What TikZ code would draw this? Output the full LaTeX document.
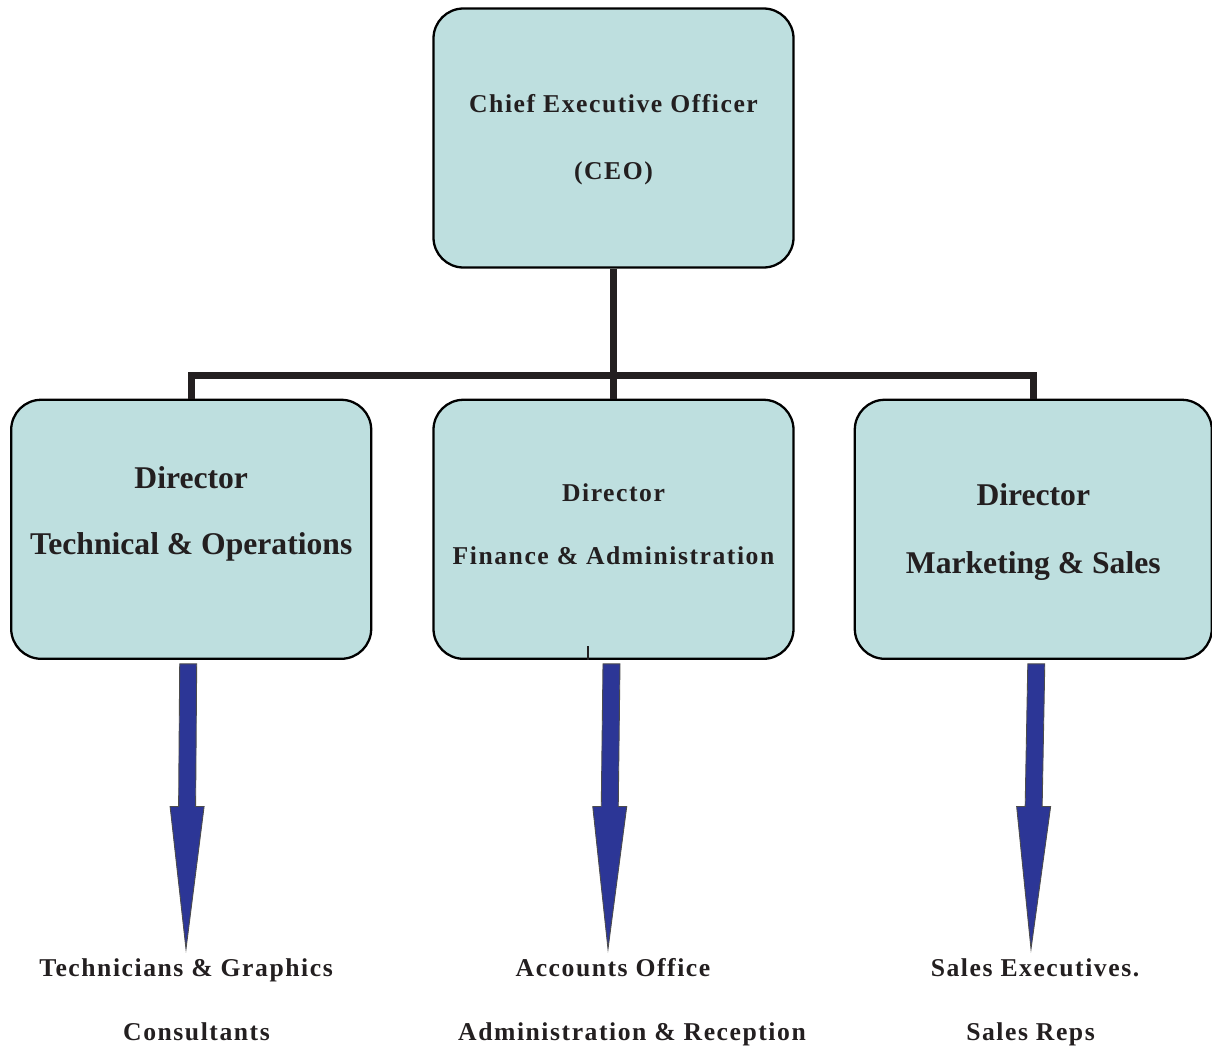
\documentclass[tikz,border=0pt]{standalone}
\usepackage{fontspec}
\setmainfont{Liberation Serif}
\newfontfamily\spacedserif[LetterSpace=6]{Liberation Serif}
\usetikzlibrary{calc,positioning}
\definecolor{BoxTeal}{RGB}{190,223,223}
\definecolor{ArrowBlue}{RGB}{44,54,150}
\definecolor{InkBlack}{RGB}{35,31,32}

\begin{document}
\begin{tikzpicture}[x=0.2mm, y=-0.2mm,
       text=InkBlack,
       every node/.style={font=\bfseries},
       post/.style = {rectangle, minimum width=72mm, minimum height=51.8mm,
                      rounded corners=6mm, draw=black, line width=1.3pt, fill=BoxTeal},
       bigtitle/.style = {align=center, font=\fontsize{18}{#1}\selectfont\bfseries},
       smalltitle/.style = {align=center, font=\spacedserif\fontsize{14.6}{#1}\selectfont\bfseries},
       team/.style = {inner sep=0pt, anchor=base, text height=1.5ex, text depth=.25ex,
                      font=\spacedserif\fontsize{14.6}{17}\selectfont\bfseries},
       orgline/.style = {draw=InkBlack, line width=1.4mm},
       blockarrow/.style = {draw=black!70, fill=ArrowBlue, line width=0.5pt,
                            to path={let \p1=(\tikztostart), \p2=(\tikztotarget),
                                     \p3=($(\p1)!0.5!(\p2)$) in
                                     (\x1-1.7mm,\y1) -- (\x1+1.7mm,\y1) -- (\x3+1.7mm,\y3)
                                     -- (\x3+3.4mm,\y3) -- (\p2) -- (\x3-3.4mm,\y3)
                                     -- (\x3-1.7mm,\y3) -- cycle}}]
	\useasboundingbox (0,0) rectangle (1212,1048);

	%% Chief executive
	\node [post] (ceo) at (613.5,138) {};
	\node [smalltitle=38.2pt,yshift=-0.4mm] (ceotxt) at (ceo.center) {Chief Executive Officer\\(CEO)};

	%% Directors
	\node [post,below=26mm of ceo] (dfin) {};
	\node [post,left=12mm of dfin] (dtech) {};
	\node [post,minimum width=71.4mm,right=11.8mm of dfin] (dmkt) {};
	\node [bigtitle=37.6pt,yshift=3mm] (dtechtxt) at (dtech.center) {Director\\Technical \& Operations};
	\node [smalltitle=35.8pt,yshift=1mm] (dfintxt) at (dfin.center) {Director\\Finance \& Administration};
	\node [bigtitle=38.7pt,yshift=-0.6mm] (dmkttxt) at (dmkt.center) {Director\\Marketing \& Sales};
	\draw [line width=0.5mm,InkBlack] ([xshift=-5.1mm]dfin.south) -- ++(0,2.8mm);

	%% Teams
	\node [team] (techA) at (186,976.5) {Technicians \& Graphics};
	\node [team] (techB) at (196.5,1040) {Consultants};
	\node [team] (finA) at (613,976.5) {Accounts Office};
	\node [team] (finB) at (632,1040) {Administration \& Reception};
	\node [team] (mktA) at (1035,976.5) {Sales Executives.};
	\node [team] (mktB) at (1030.5,1040) {Sales Reps};

	%% Reporting lines
	\draw [orgline] (ceo.south) -- (dfin.north);
	\draw [orgline] (dtech.north) -- ++(0,4.6mm) -| (dmkt.north);

	%% Block arrows
	\draw [blockarrow] ([xshift=-0.6mm,yshift=-0.8mm]dtech.south) to ([yshift=3mm]techA.north);
	\draw [blockarrow] ([xshift=-0.4mm,yshift=-0.8mm]dfin.south) to ([xshift=-1mm,yshift=3mm]finA.north);
	\draw [blockarrow] ([xshift=0.6mm,yshift=-0.8mm]dmkt.south) to ([xshift=-0.8mm,yshift=3mm]mktA.north);
\end{tikzpicture}
\end{document}
